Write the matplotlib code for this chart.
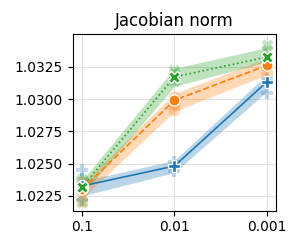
import numpy as np
import matplotlib.pyplot as plt

lrs = ["0.1", "0.01", "0.001"]

# mean, ci low, ci high per method
blue_mean = [1.02327, 1.02482, 1.03134]
blue_lo = [1.0225, 1.02431, 1.0306]
blue_hi = [1.02366, 1.02526, 1.0319]
orange_mean = [1.02302, 1.02992, 1.03262]
orange_lo = [1.0223, 1.02905, 1.0319]
orange_hi = [1.02345, 1.03044, 1.0332]
green_mean = [1.0232, 1.03173, 1.03327]
green_lo = [1.0226, 1.0310, 1.0329]
green_hi = [1.0237, 1.0324, 1.0340]

# individual seeds
blue_pts = [[1.0245, 1.0238, 1.0222], [1.0251, 1.0248, 1.0244], [1.0316, 1.0313, 1.0305]]
orange_pts = [[1.0236, 1.0228, 1.0221], [1.0302, 1.0296, 1.0292], [1.0330, 1.0326, 1.0320]]
green_pts = [[1.0238, 1.0230, 1.0220], [1.0323, 1.0320, 1.0314], [1.0342, 1.0338, 1.0330]]

fig, ax = plt.subplots(figsize=(3, 2.5), dpi=100)
fig.subplots_adjust(left=0.243, right=0.92, top=0.863, bottom=0.157)

x = np.arange(len(lrs))
series = [
    (blue_mean, blue_lo, blue_hi, blue_pts, "tab:blue", "-", "P"),
    (orange_mean, orange_lo, orange_hi, orange_pts, "tab:orange", "--", "o"),
    (green_mean, green_lo, green_hi, green_pts, "tab:green", ":", "X"),
]
for mean, lo, hi, pts, c, ls, mk in series:
    ax.fill_between(x, lo, hi, color=c, alpha=0.3, linewidth=0)
    for i, p in enumerate(pts):
        ax.scatter([x[i]] * len(p), p, color=c, marker=mk, s=75, alpha=0.28, linewidths=0)
    ax.plot(x, mean, color=c, linestyle=ls, linewidth=1.2, marker=mk, markersize=8,
            markeredgecolor="white", markeredgewidth=1.0)

ax.set_xticks(x)
ax.set_xticklabels(lrs)
ax.set_xlim(-0.1, 2.1)
ax.set_ylim(1.02135, 1.03504)
ax.set_yticks([1.0225, 1.0250, 1.0275, 1.0300, 1.0325])
ax.yaxis.set_major_formatter(plt.FormatStrFormatter("%.4f"))
ax.grid(True, color="#e0e0e0", linewidth=0.8)
ax.set_axisbelow(True)
ax.set_title("Jacobian norm", fontsize=12)
ax.tick_params(labelsize=10)

fig.savefig("out.png", dpi=100)
